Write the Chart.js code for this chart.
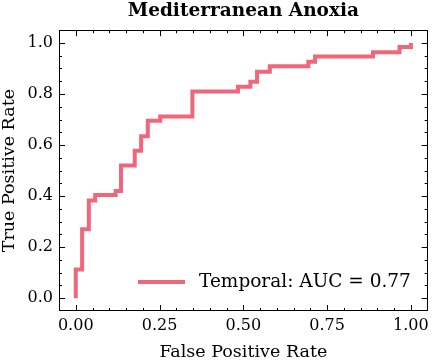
<!DOCTYPE html>
<html>
<head>
<meta charset="utf-8">
<script src="https://cdn.jsdelivr.net/npm/chart.js@4/dist/chart.umd.min.js"></script>
<style>
  html, body { margin: 0; padding: 0; background: #fff; }
  #wrap { width: 434px; height: 362px; }
</style>
</head>
<body>
<div id="wrap"><canvas id="roc" width="434" height="362"></canvas></div>
<script>
const chartTitle = "Mediterranean Anoxia";
const seriesLabel = "Temporal: AUC = 0.77";
const fpr = [0, 0, 0.019, 0.019, 0.039, 0.039, 0.058, 0.058, 0.119, 0.119, 0.135, 0.135, 0.176, 0.176, 0.195, 0.195, 0.215, 0.215, 0.252, 0.252, 0.348, 0.348, 0.484, 0.484, 0.521, 0.521, 0.541, 0.541, 0.579, 0.579, 0.694, 0.694, 0.714, 0.714, 0.887, 0.887, 0.966, 0.966, 1, 1];
const tpr = [0, 0.113, 0.113, 0.27, 0.27, 0.383, 0.383, 0.404, 0.404, 0.42, 0.42, 0.52, 0.52, 0.578, 0.578, 0.635, 0.635, 0.695, 0.695, 0.712, 0.712, 0.81, 0.81, 0.828, 0.828, 0.848, 0.848, 0.887, 0.887, 0.909, 0.909, 0.926, 0.926, 0.947, 0.947, 0.964, 0.964, 0.984, 0.984, 1];
const xTicks = [0, 0.25, 0.5, 0.75, 1];
const yTicks = [0, 0.2, 0.4, 0.6, 0.8, 1];
const minorStep = 0.05;

const lineColor = "#f0677c";
const serif = "'DejaVu Serif', serif";

// frame + inward ticks on all four sides, like the matplotlib style
const frameTicks = {
  id: "frameTicks",
  afterDraw(chart) {
    const { ctx, chartArea: a, scales } = chart;
    ctx.save();
    ctx.strokeStyle = "#000";
    ctx.lineWidth = 1;
    ctx.strokeRect(Math.round(a.left) + 0.5, Math.round(a.top) + 0.5,
      Math.round(a.right - a.left) - 1, Math.round(a.bottom - a.top) - 1);
    ctx.beginPath();
    for (let v = -0.05; v <= 1.0501; v += minorStep) {
      const val = Math.round(v * 100) / 100;
      const xMajor = xTicks.includes(val);
      const yMajor = yTicks.includes(val);
      const px = Math.round(scales.x.getPixelForValue(val)) + 0.5;
      const py = Math.round(scales.y.getPixelForValue(val)) + 0.5;
      const lx = xMajor ? 6 : 3;
      const ly = yMajor ? 6 : 3;
      if (px > a.left + 1 && px < a.right - 1) {
        ctx.moveTo(px, a.bottom); ctx.lineTo(px, a.bottom - lx);
        ctx.moveTo(px, a.top); ctx.lineTo(px, a.top + lx);
      }
      if (py > a.top + 1 && py < a.bottom - 1) {
        ctx.moveTo(a.left, py); ctx.lineTo(a.left + ly, py);
        ctx.moveTo(a.right, py); ctx.lineTo(a.right - ly, py);
      }
    }
    ctx.stroke();

    // legend, lower right inside the axes
    const ds = chart.data.datasets[0];
    const ly = a.bottom - 29;
    const x0 = a.left + 79;
    ctx.strokeStyle = ds.borderColor;
    ctx.lineWidth = ds.borderWidth;
    ctx.beginPath();
    ctx.moveTo(x0, ly); ctx.lineTo(x0 + 47, ly);
    ctx.stroke();
    ctx.fillStyle = "#000";
    ctx.font = "18.5px " + serif;
    ctx.textBaseline = "middle";
    ctx.textAlign = "left";
    ctx.fillText(ds.label, x0 + 61, ly);
    ctx.restore();
  }
};

new Chart(document.getElementById("roc"), {
  type: "scatter",
  data: {
    datasets: [{
      label: seriesLabel,
      data: fpr.map((x, i) => ({ x: x, y: tpr[i] })),
      showLine: true,
      borderColor: lineColor,
      backgroundColor: lineColor,
      borderWidth: 4,
      pointRadius: 0,
      tension: 0
    }]
  },
  options: {
    responsive: false,
    animation: false,
    devicePixelRatio: 1,
    layout: { padding: { left: 0, right: 4, top: 0, bottom: 0 } },
    plugins: {
      legend: { display: false },
      tooltip: { enabled: false },
      title: {
        display: true,
        fullSize: false,
        text: chartTitle,
        color: "#000",
        font: { family: serif, size: 18.5, weight: "bold", lineHeight: 1.2 },
        padding: { top: 0, bottom: 8 }
      }
    },
    scales: {
      x: {
        type: "linear",
        min: -0.05,
        max: 1.05,
        afterBuildTicks: s => { s.ticks = xTicks.map(v => ({ value: v })); },
        afterFit: s => { s.height = 51; },
        ticks: {
          color: "#000",
          padding: 5,
          maxRotation: 0,
          font: { family: serif, size: 16 },
          callback: v => v.toFixed(2)
        },
        grid: { display: false, drawTicks: false },
        border: { display: false },
        title: {
          display: true,
          text: "False Positive Rate",
          color: "#000",
          font: { family: serif, size: 17.5, lineHeight: 1.1 },
          padding: { top: 0, bottom: 0 }
        }
      },
      y: {
        type: "linear",
        min: -0.05,
        max: 1.05,
        afterBuildTicks: s => { s.ticks = yTicks.map(v => ({ value: v })); },
        afterFit: s => { s.width = 59; },
        ticks: {
          color: "#000",
          padding: 6,
          font: { family: serif, size: 16 },
          callback: v => v.toFixed(1)
        },
        grid: { display: false, drawTicks: false },
        border: { display: false },
        title: {
          display: true,
          text: "True Positive Rate",
          color: "#000",
          font: { family: serif, size: 17.5, lineHeight: 1.05 },
          padding: { top: 0, bottom: 0 }
        }
      }
    }
  },
  plugins: [frameTicks]
});
</script>
</body>
</html>
